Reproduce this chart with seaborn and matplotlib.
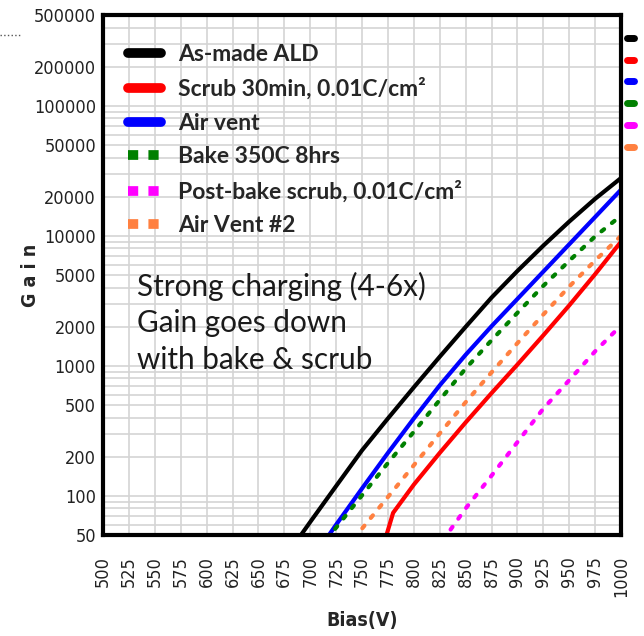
import pandas as pd
import matplotlib
matplotlib.use("Agg")
import matplotlib.pyplot as plt
import matplotlib.transforms as mtransforms
from matplotlib.lines import Line2D
from matplotlib.ticker import LogLocator, NullFormatter, FixedLocator
from matplotlib import font_manager
import seaborn as sns

# series names, colours, line style
series_names = ["As-made ALD", "Scrub 30min, 0.01C/cm²", "Air vent",
                "Bake 350C 8hrs", "Post-bake scrub, 0.01C/cm²", "Air Vent #2"]
series_colors = ["#000000", "#ff0000", "#0000ff", "#008000", "#ff00ff", "#ff8040"]
series_dotted = [False, False, False, True, True, True]

# gain vs bias (values below 50 are clipped by the axis)
bias_asmade = [675, 700, 725, 750, 775, 800, 825, 850, 875, 900, 925, 950, 975, 1000]
gain_asmade = [33, 63, 119, 224, 394, 684, 1175, 1995, 3350, 5370, 8410, 12880, 19280, 27860]

bias_scrub = [770, 780, 800, 825, 850, 875, 900, 925, 950, 975, 1000]
gain_scrub = [40, 74, 122, 214, 367, 617, 1023, 1718, 2917, 5070, 9016]

bias_airvent = [700, 725, 750, 775, 800, 825, 850, 875, 900, 925, 950, 975, 1000]
gain_airvent = [31, 60, 114, 214, 394, 708, 1216, 2018, 3273, 5309, 8610, 13960, 22650]

bias_bake = [700, 725, 750, 775, 800, 825, 850, 875, 900, 925, 950, 975, 1000]
gain_bake = [32, 57, 101, 179, 311, 547, 953, 1574, 2559, 4130, 6427, 9908, 14290]

bias_postbake = [800, 825, 850, 875, 900, 925, 950, 975, 1000]
gain_postbake = [28, 42, 80, 143, 259, 469, 776, 1294, 2046]

bias_airvent2 = [725, 750, 775, 800, 825, 850, 875, 900, 925, 950, 975, 1000]
gain_airvent2 = [33, 56, 98, 172, 302, 525, 891, 1496, 2483, 4074, 6457, 10000]

y_ticks = [50, 100, 200, 500, 1000, 2000, 5000, 10000, 20000, 50000, 100000, 200000, 500000]
x_ticks = list(range(500, 1001, 25))

note_text = "Strong charging (4-6x)\nGain goes down\nwith bake & scrub"

all_bias = [bias_asmade, bias_scrub, bias_airvent, bias_bake, bias_postbake, bias_airvent2]
all_gain = [gain_asmade, gain_scrub, gain_airvent, gain_bake, gain_postbake, gain_airvent2]
frames = []
for name, b, g in zip(series_names, all_bias, all_gain):
    frames.append(pd.DataFrame({"Bias": b, "Gain": g, "Sample": name}))
df = pd.concat(frames, ignore_index=True)

sns.set_style("white")
# narrow tick font: condensed DejaVu if present
tick_font = font_manager.FontProperties(family="DejaVu Sans", stretch="condensed", size=13)
label_font = font_manager.FontProperties(family="DejaVu Sans", stretch="condensed",
                                         weight="bold", size=14)

fig = plt.figure(figsize=(6.44, 6.36), dpi=100)
ax = fig.add_axes([0.160, 0.1588, 0.8043, 0.8176])

dash_map = {n: ((0.8, 2.4) if d else "") for n, d in zip(series_names, series_dotted)}
sns.lineplot(data=df, x="Bias", y="Gain", hue="Sample", style="Sample",
             hue_order=series_names, style_order=series_names,
             palette=dict(zip(series_names, series_colors)), dashes=dash_map,
             linewidth=3, legend=False, sort=False, estimator=None,
             dash_capstyle="round", ax=ax)

ax.set_yscale("log")
ax.set_xlim(500, 1000)
ax.set_ylim(50, 500000)
ax.yaxis.set_major_locator(FixedLocator(y_ticks))
ax.set_yticklabels([str(v) for v in y_ticks], fontproperties=tick_font, color="#222222")
ax.yaxis.set_minor_locator(LogLocator(base=10, subs=range(2, 10), numticks=20))
ax.yaxis.set_minor_formatter(NullFormatter())
ax.set_xticks(x_ticks)
ax.set_xticklabels([str(v) for v in x_ticks], fontproperties=tick_font,
                   color="#222222", rotation=90)
shift = mtransforms.ScaledTranslation(6 / 100, 0, fig.dpi_scale_trans)
for lab in ax.get_xticklabels():
    lab.set_transform(lab.get_transform() + shift)
ax.tick_params(which="both", length=0, pad=5)
ax.tick_params(axis="x", pad=15)

ax.grid(which="both", color="#d4d4d4", linewidth=1.2)
ax.set_axisbelow(True)
for sp in ax.spines.values():
    sp.set_visible(True)
    sp.set_color("black")
    sp.set_linewidth(3)

ax.set_xlabel("Bias(V)", fontproperties=label_font)
ax.set_ylabel("G a i n", fontproperties=label_font)
ax.xaxis.set_label_coords(0.5, -0.146)
ax.yaxis.set_label_coords(-0.122, 0.5)

# legend with thick handles
handles = []
for c, d in zip(series_colors, series_dotted):
    handles.append(Line2D([], [], color=c, linewidth=7,
                          linestyle=(0, (1.05, 1.05)) if d else "-"))
ax.legend(handles, series_names, loc="upper left", bbox_to_anchor=(0.048, 0.945),
          frameon=False, borderpad=0, borderaxespad=0, handlelength=1.45,
          handletextpad=0.75, labelspacing=0.56,
          prop={"family": "Lato", "weight": "bold", "size": 16.5})

# legend at the right edge, cut off by the figure border (only markers show)
small = [Line2D([], [], color=c, linewidth=5) for c in series_colors]
fig.legend(small, [" "] * len(small), loc="upper left",
           bbox_to_anchor=(627 / 644, 1 - 31 / 636), frameon=False,
           borderpad=0, borderaxespad=0, handlelength=0.45, handletextpad=0.3,
           labelspacing=0.45, fontsize=11)

ax.text(0.066, 0.506, note_text, transform=ax.transAxes, ha="left", va="top",
        family="Lato", fontsize=21.4, linespacing=1.36, color="#1a1a1a")

# small dotted mark at top-left
fig.add_artist(Line2D([0.0, 0.032], [0.945, 0.945], transform=fig.transFigure,
                      color="#555555", linestyle=":", linewidth=1))

fig.savefig("out.png", dpi=100)
